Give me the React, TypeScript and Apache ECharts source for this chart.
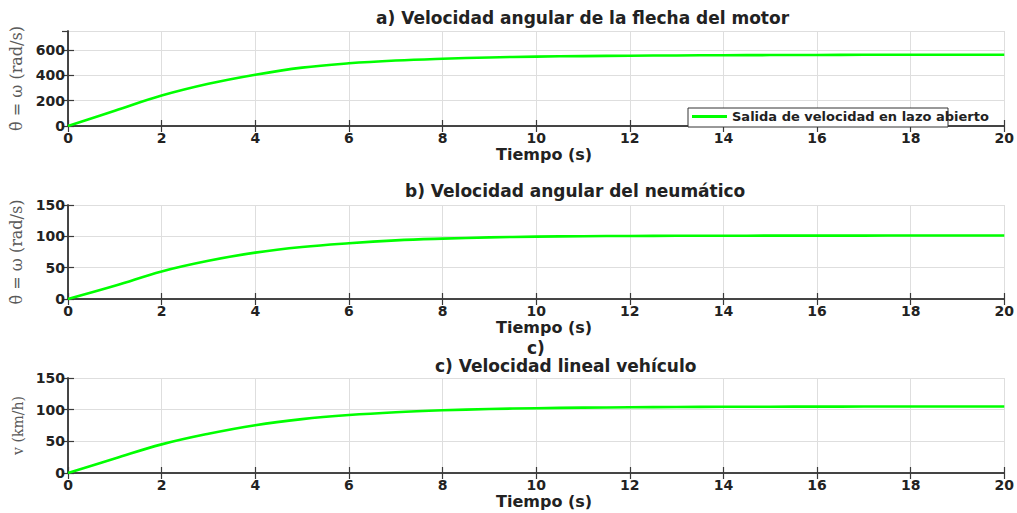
import React, { useEffect, useRef } from "react";
import * as echarts from "echarts";

const time = [0, 1, 2, 3, 4, 5, 6, 7, 8, 9, 10, 11, 12, 13, 14, 15, 16, 17, 18, 19, 20];
const motorSpeed = [0, 120, 240, 333, 405, 461, 495, 517, 531, 541, 548, 552, 555, 557, 559, 560, 561, 562, 562, 563, 563];
const tireSpeed = [0, 21, 44, 61, 74, 83, 89, 93.5, 96.3, 98.3, 99.5, 100.2, 100.6, 100.9, 101, 101.1, 101.2, 101.2, 101.3, 101.3, 101.3];
const vehicleSpeed = [0, 22.9, 45.2, 62, 75.5, 85, 91.5, 96, 99, 101, 102.3, 103.2, 103.8, 104.2, 104.5, 104.7, 104.8, 104.9, 105, 105, 105];

const titles = [
  "a) Velocidad angular de la flecha del motor",
  "b) Velocidad angular del neumático",
  "c)",
  "c) Velocidad lineal vehículo",
];
const yNames = ["θ̇ = ω (rad/s)", "θ̇ = ω (rad/s)", "v (km/h)"];
const yMax = [750, 150, 150];
const yInterval = [200, 50, 50];
const xName = "Tiempo (s)";
const legendName = "Salida de velocidad en lazo abierto";

export default function App() {
  const ref = useRef<HTMLDivElement>(null);
  useEffect(() => {
    document.body.style.margin = "0";
    if (!ref.current) return;
    const chart = echarts.init(ref.current, null, { renderer: "svg" });
    const tops = [31, 205, 378];
    const heights = [95, 94, 95];
    const axisColor = "#3a3a3a";
    const labelStyle = {
      fontFamily: "DejaVu Sans",
      fontWeight: "bold" as const,
      fontSize: 14,
      color: "#222",
    };
    const grids = tops.map((t, i) => ({ left: 68, right: 11, top: t, height: heights[i] }));
    const xAxes: any[] = [];
    const yAxes: any[] = [];
    const series: any[] = [];
    const datasets = [motorSpeed, tireSpeed, vehicleSpeed];
    for (let i = 0; i < 3; i++) {
      const common = {
        type: "value",
        min: 0,
        max: 20,
        interval: 2,
        gridIndex: i,
        axisLine: { show: true, lineStyle: { color: axisColor, width: 1.5 } },
        axisTick: { show: true, inside: true, length: 6, lineStyle: { color: axisColor, width: 1.2 } },
      };
      xAxes.push({
        ...common,
        position: "bottom",
        axisLabel: { ...labelStyle, margin: 5 },
        splitLine: { show: true, lineStyle: { color: "#dedede", width: 1 } },
        name: xName,
        nameLocation: "middle",
        nameGap: 20,
        nameTextStyle: {
          fontFamily: "DejaVu Sans",
          fontWeight: "bold",
          fontSize: 16,
          color: "#222",
          padding: [0, 0, 0, 16],
        },
      });
      xAxes.push({
        ...common,
        position: "top",
        axisLabel: { show: false },
        splitLine: { show: false },
      });
      const ycommon = {
        type: "value",
        min: 0,
        max: yMax[i],
        interval: yInterval[i],
        gridIndex: i,
        axisLine: { show: true, lineStyle: { color: axisColor, width: 1.5 } },
        axisTick: { show: true, inside: true, length: 6, lineStyle: { color: axisColor, width: 1.2 } },
      };
      yAxes.push({
        ...ycommon,
        position: "left",
        axisLabel: { ...labelStyle, margin: 3, showMaxLabel: i !== 0 },
        splitLine: { show: true, lineStyle: { color: "#dedede", width: 1 } },
        name: yNames[i],
        nameLocation: "middle",
        nameGap: 33,
        nameTextStyle: {
          fontFamily: "DejaVu Serif",
          fontSize: i === 2 ? 14 : 16,
          color: "#5a5a5a",
        },
      });
      yAxes.push({
        ...ycommon,
        position: "right",
        axisLabel: { show: false },
        splitLine: { show: false },
      });
      series.push({
        type: "line",
        name: i === 0 ? legendName : "s" + i,
        xAxisIndex: i * 2,
        yAxisIndex: i * 2,
        data: time.map((t, k) => [t, datasets[i][k]]),
        smooth: 0.4,
        showSymbol: false,
        lineStyle: { color: "#00ff00", width: 2.6 },
        itemStyle: { color: "#00ff00" },
        z: 3,
      });
    }
    const titleStyle = {
      fontFamily: "DejaVu Sans",
      fontWeight: "bold" as const,
      fontSize: 17,
      color: "#222",
    };
    const titlePos = [
      [376, 9],
      [405, 182],
      [527, 339],
      [435, 357],
    ];
    chart.setOption({
      animation: false,
      backgroundColor: "#fff",
      title: titles.map((t, i) => ({
        text: t,
        left: titlePos[i][0],
        top: titlePos[i][1],
        padding: 0,
        textStyle: titleStyle,
      })),
      grid: grids,
      xAxis: xAxes,
      yAxis: yAxes,
      series,
      legend: {
        data: [legendName],
        left: 692,
        top: 110,
        padding: 0,
        itemWidth: 35,
        itemHeight: 3,
        icon: "rect",
        z: 10,
        textStyle: {
          fontFamily: "DejaVu Sans",
          fontWeight: "bold",
          fontSize: 13,
          color: "#222",
        },
      },
      graphic: [
        {
          type: "rect",
          z: 5,
          shape: { x: 688, y: 108, width: 260, height: 19 },
          style: { fill: "#fff", stroke: "#333", lineWidth: 1 },
        },
      ],
    });
    return () => chart.dispose();
  }, []);
  return <div ref={ref} style={{ width: 1017, height: 513 }} />;
}
